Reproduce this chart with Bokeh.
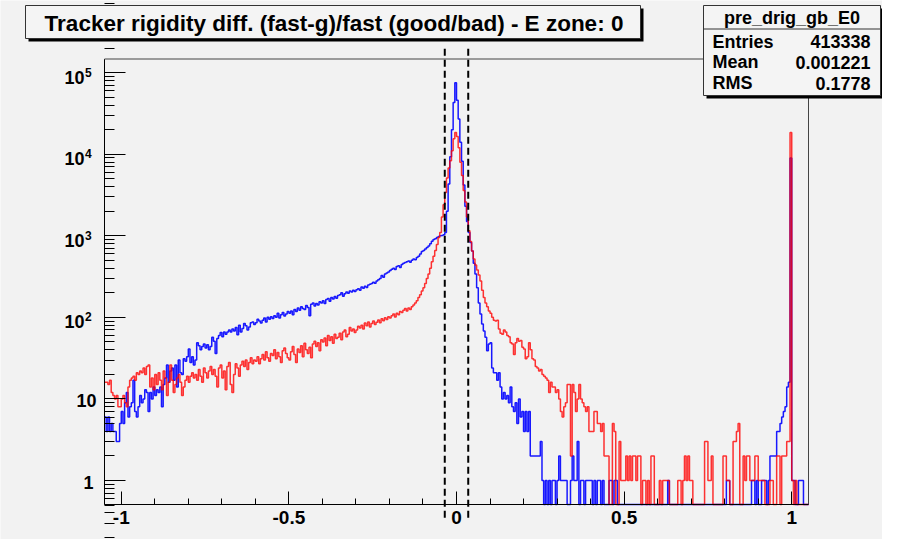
import math
import numpy as np
from bokeh.plotting import figure
from bokeh.models import FixedTicker, Label, BoxAnnotation, Arrow
from bokeh.embed import file_html
from bokeh.resources import INLINE

# ---------------- data ----------------
x_min, x_max, n_bins = -1.05, 1.05, 420

blue_counts = [
    6, 4, 6, 4, 5, 4, 4, 3, 3, 5,
    7, 5, 9, 12, 6, 8, 9, 17, 7, 6,
    8, 11, 9, 10, 13, 12, 7, 12, 10, 14,
    11, 13, 12, 14, 8, 15, 18, 26, 16, 22,
    24, 17, 26, 14, 30, 21, 20, 31, 29, 33,
    41, 28, 33, 26, 30, 49, 45, 40, 44, 47,
    42, 46, 40, 44, 57, 51, 36, 55, 60, 65,
    58, 66, 62, 66, 70, 66, 72, 68, 75, 61,
    80, 66, 73, 84, 79, 70, 76, 86, 88, 82,
    86, 95, 90, 85, 92, 98, 88, 100, 95, 102,
    97, 105, 100, 112, 98, 108, 115, 104, 110, 118,
    112, 120, 108, 125, 118, 130, 122, 135, 128, 125,
    140, 132, 105, 145, 150, 138, 148, 142, 155, 150,
    160, 148, 165, 170, 158, 175, 168, 180, 172, 185,
    190, 200, 182, 195, 205, 198, 210, 205, 215, 208,
    218, 225, 215, 235, 228, 240, 232, 250, 255, 260,
    270, 262, 280, 290, 300, 325, 310, 340, 350, 360,
    375, 390, 400, 385, 420, 430, 410, 445, 460, 470,
    480, 490, 475, 500, 520, 510, 540, 560, 600, 640,
    660, 690, 720, 750, 800, 860, 900, 920, 950, 980,
    1000, 1010, 1030, 1100, 2000, 4300, 9300, 20000, 43000, 75000,
    46000, 27000, 14000, 8200, 4200, 2300, 1500, 1100, 830, 650,
    460, 340, 230, 150, 110, 83, 68, 57, 39, 47,
    49, 24, 21, 21, 17, 21, 14, 10, 12, 10,
    11, 9, 14, 8, 7, 9, 5, 10, 6, 7,
    4, 7, 4, 7, 2, 2, 2, 2, 2, 2,
    3, 1, 0, 1, 0, 1, 0, 1, 1, 0,
    1, 2, 1, 1, 1, 1, 0, 0, 1, 2,
    1, 1, 3, 0, 1, 1, 0, 1, 1, 1,
    1, 0, 1, 0, 1, 1, 0, 1, 0, 0,
    0, 1, 1, 0, 1, 1, 0, 0, 0, 0,
    0, 0, 0, 0, 0, 0, 0, 0, 0, 0,
    0, 0, 0, 0, 0, 0, 0, 0, 0, 0,
    0, 0, 0, 0, 0, 0, 1, 0, 0, 0,
    0, 0, 0, 0, 0, 0, 0, 0, 0, 0,
    0, 0, 0, 0, 0, 0, 0, 0, 0, 0,
    0, 0, 0, 0, 0, 0, 0, 0, 0, 0,
    0, 1, 1, 0, 0, 0, 0, 0, 0, 0,
    0, 0, 0, 0, 0, 0, 1, 1, 0, 1,
    0, 0, 1, 1, 1, 0, 1, 2, 2, 2,
    2, 4, 4, 5, 6, 7, 8, 14, 16, 9000,
    1, 1, 0, 0, 1, 1, 1, 0, 0, 0,
]

red_counts = [
    16, 16, 15, 17, 12, 11, 10, 11, 8, 8,
    10, 11, 9, 8, 14, 17, 18, 19, 17, 21,
    20, 22, 21, 24, 20, 25, 26, 14, 18, 13,
    20, 15, 21, 17, 13, 22, 18, 11, 16, 26,
    17, 12, 15, 18, 20, 16, 11, 14, 17, 19,
    16, 19, 21, 18, 20, 17, 23, 19, 16, 24,
    21, 18, 22, 25, 20, 23, 19, 14, 24, 26,
    18, 22, 13, 25, 28, 15, 12, 20, 27, 24,
    19, 26, 29, 25, 30, 23, 28, 32, 27, 30,
    29, 33, 27, 31, 35, 30, 38, 32, 29, 36,
    34, 40, 31, 37, 33, 28, 39, 42, 36, 32,
    30, 38, 44, 35, 28, 41, 37, 45, 33, 48,
    40, 36, 43, 32, 47, 51, 44, 49, 39, 53,
    50, 56, 45, 60, 52, 58, 48, 62, 55, 57,
    64, 53, 66, 70, 58, 62, 75, 68, 72, 65,
    70, 78, 74, 80, 72, 85, 79, 88, 76, 84,
    90, 82, 87, 93, 86, 96, 91, 99, 94, 102,
    98, 105, 110, 101, 112, 108, 118, 115, 122, 128,
    120, 130, 125, 135, 142, 150, 160, 175, 190, 210,
    230, 260, 300, 340, 400, 480, 560, 660, 780, 950,
    1100, 1700, 2400, 3400, 5100, 6800, 8300, 11000, 15500, 18500,
    16500, 12000, 8000, 5500, 3600, 2600, 1700, 1150, 850, 650,
    520, 440, 380, 330, 280, 215, 175, 150, 135, 120,
    112, 100, 92, 90, 92, 72, 64, 62, 70, 66,
    60, 58, 49, 47, 35, 49, 55, 51, 52, 43,
    41, 31, 33, 49, 40, 31, 30, 25, 24, 22,
    23, 20, 19, 18, 17, 12, 16, 14, 14, 12,
    13, 10, 7, 6, 8, 9, 15, 15, 2, 15,
    12, 7, 10, 15, 10, 9, 8, 7, 8, 4,
    4, 4, 7, 7, 5, 5, 4, 5, 2, 2,
    2, 0, 0, 5, 4, 0, 0, 3, 1, 1,
    1, 2, 1, 2, 1, 2, 2, 1, 2, 2,
    0, 1, 1, 0, 1, 0, 2, 2, 0, 0,
    0, 1, 0, 1, 1, 1, 1, 0, 0, 0,
    0, 0, 1, 1, 0, 1, 2, 1, 2, 1,
    1, 0, 0, 0, 0, 0, 0, 0, 3, 3,
    1, 1, 2, 0, 0, 0, 0, 0, 0, 2,
    2, 1, 1, 0, 0, 3, 3, 4, 5, 0,
    0, 2, 1, 2, 2, 1, 1, 1, 2, 2,
    1, 1, 1, 1, 0, 0, 0, 1, 1, 0,
    0, 2, 2, 0, 2, 2, 2, 3, 3, 18500,
    1, 0, 1, 0, 0, 0, 0, 0, 0, 0,
]

cut_values = [-0.035, 0.035]

title_text = "Tracker rigidity diff. (fast-g)/fast (good/bad) - E zone: 0"
stats_title = "pre_drig_gb_E0"
stats_names = ["Entries", "Mean", "RMS"]
stats_values = ["413338", "0.001221", "0.1778"]

x_tick_values = [-1, -0.5, 0, 0.5, 1]
x_tick_labels = ["-1", "-0.5", "0", "0.5", "1"]
y_tick_values = [1, 10, 100, 1000, 10000, 100000]
y_tick_bases = ["1", "10", "10", "10", "10", "10"]
y_tick_exponents = ["", "", "2", "3", "4", "5"]
y_lo, y_hi = 0.508, 147000

# ---------------- geometry / styling ----------------
W, H = 882, 539
FR_L, FR_R, FR_T, FR_B = 104, 808, 58.5, 504   # histogram frame, canvas px
BG = "#f2f2f2"
FONT = "Liberation Sans"

# the Bokeh frame covers the whole canvas so the boxes can sit anywhere;
# the histogram frame is the region [x_min, x_max] x [y_lo, y_hi]
ppx = (FR_R - FR_L) / (x_max - x_min)
ppd = (FR_B - FR_T) / (math.log10(y_hi) - math.log10(y_lo))
xr = (x_min - FR_L / ppx, x_max + (W - FR_R) / ppx)
yr = (10 ** (math.log10(y_lo) - (H - FR_B) / ppd), 10 ** (math.log10(y_hi) + FR_T / ppd))

p = figure(width=W, height=H, x_range=xr, y_range=yr, y_axis_type="log",
           output_backend="svg", toolbar_location=None,
           min_border_left=0, min_border_right=0, min_border_top=0,
           min_border_bottom=0, background_fill_color=BG, border_fill_color=BG)
p.grid.visible = False
p.outline_line_color = None

x_minor = [round(v, 2) for v in np.arange(-1.0, 1.001, 0.1)]
p.xaxis.ticker = FixedTicker(ticks=x_tick_values, minor_ticks=x_minor)
p.xaxis.major_label_overrides = {v: t for v, t in zip(x_tick_values, x_tick_labels)}
y_minor = [m * 10.0 ** k for k in range(-1, 6) for m in range(2, 10)]
p.yaxis.ticker = FixedTicker(ticks=y_tick_values, minor_ticks=y_minor)

p.xaxis.fixed_location = y_lo
p.yaxis.fixed_location = x_min
p.xaxis.bounds = (x_min, x_max)
p.yaxis.bounds = (y_lo, y_hi)

for ax in (p.xaxis[0], p.yaxis[0]):
    ax.axis_line_color = "black"
    ax.axis_line_width = 1
    ax.major_tick_line_color = "black"
    ax.minor_tick_line_color = "black"
    ax.major_tick_out = 0
    ax.minor_tick_out = 0
    ax.major_label_text_font = FONT
    ax.major_label_text_font_style = "bold"
    ax.major_label_text_color = "black"

p.xaxis.major_label_text_font_size = "19px"
p.xaxis.major_tick_in = 13
p.xaxis.minor_tick_in = 6
p.xaxis.major_label_standoff = 6
p.yaxis.major_tick_in = 21
p.yaxis.minor_tick_in = 10
p.yaxis.major_label_text_color = None   # drawn below as base + exponent

# frame outline of the histogram area
p.add_layout(BoxAnnotation(left=x_min, right=x_max, bottom=y_lo, top=y_hi,
                           fill_color=None, line_color="#444444", line_alpha=1.0,
                           line_width=1, level="underlay"))

# ---------------- histograms ----------------
edges = np.linspace(x_min, x_max, n_bins + 1)


def step_xy(counts):
    c = np.asarray(counts, dtype=float)
    y = np.where(c > 0, c, y_lo)   # empty bins are drawn on the frame bottom
    return edges, np.append(y, y[-1])


bx, by = step_xy(blue_counts)
rx, ry = step_xy(red_counts)
p.step(bx, by, mode="after", line_color="#0000ff", line_width=1.5, line_alpha=0.9)
p.step(rx, ry, mode="after", line_color="#ff0000", line_width=1.5, line_alpha=0.8)

# cut lines (extend slightly beyond the frame like the original)
for cv in cut_values:
    p.add_layout(Arrow(end=None, x_start=cv, y_start=0.35, x_end=cv, y_end=2.0e5,
                       line_color="black", line_width=2, line_dash="7 4"))


# ---------------- y tick labels: "10" with a real superscript ----------------
def shift(v, px):
    """data value lying px pixels below v on the log axis"""
    return v * 10 ** (-px / ppd)


for v, base, ex in zip(y_tick_values, y_tick_bases, y_tick_exponents):
    if ex:
        p.add_layout(Label(x=84, y=shift(v, 4.5), x_units="canvas", text=base,
                           text_font=FONT, text_font_style="bold", text_font_size="18px",
                           text_align="right", text_baseline="middle", text_color="black"))
        p.add_layout(Label(x=84.5, y=shift(v, -0.5), x_units="canvas", text=ex,
                           text_font=FONT, text_font_style="bold", text_font_size="12px",
                           text_align="left", text_baseline="middle", text_color="black"))
    else:
        p.add_layout(Label(x=96 if len(base) > 1 else 93, y=shift(v, 1.5), x_units="canvas",
                           text=base, text_font=FONT, text_font_style="bold",
                           text_font_size="18px", text_align="right",
                           text_baseline="middle", text_color="black"))


# ---------------- title and stats boxes ----------------
def cbox(left, top, right, bottom, fill, line_color=None):
    return BoxAnnotation(left=left, right=right, top=top, bottom=bottom,
                         left_units="canvas", right_units="canvas",
                         top_units="canvas", bottom_units="canvas",
                         fill_color=fill, fill_alpha=1.0,
                         line_color=line_color, line_alpha=1.0, line_width=1)


def clabel(x, y, text, align="left", size="18px"):
    return Label(x=x, y=y, x_units="canvas", y_units="canvas", text=text,
                 text_font=FONT, text_font_style="bold", text_font_size=size,
                 text_align=align, text_baseline="middle", text_color="black")


# title box
tl, tt, tr, tb = 25, 5, 640, 38
p.add_layout(cbox(tl + 3, tt + 3, tr + 3, tb + 3, "black"))
p.add_layout(cbox(tl, tt, tr, tb, "#f4f4f4", "#333333"))
p.add_layout(clabel((tl + tr) / 2 + 1, (tt + tb) / 2 + 1, title_text, align="center",
                    size="22.5px"))

# stats box
sl, st, sr, sb = 703, 5, 880, 95
p.add_layout(cbox(sl + 3, st + 3, sr + 3, sb + 3, "black"))
p.add_layout(cbox(sl, st, sr, sb, "#f4f4f4", "#333333"))
p.add_layout(Arrow(end=None, x_start=sl, y_start=28.5, x_end=sr, y_end=28.5,
                   start_units="canvas", end_units="canvas",
                   line_color="#333333", line_width=1))
p.add_layout(clabel((sl + sr) / 2, 17, stats_title, align="center"))
row_y = [41, 61.7, 82.7]
for name, val, yy in zip(stats_names, stats_values, row_y):
    p.add_layout(clabel(712, yy, name, align="left"))
    p.add_layout(clabel(870, yy, val, align="right"))

open("out.html", "w").write(file_html(p, INLINE))
